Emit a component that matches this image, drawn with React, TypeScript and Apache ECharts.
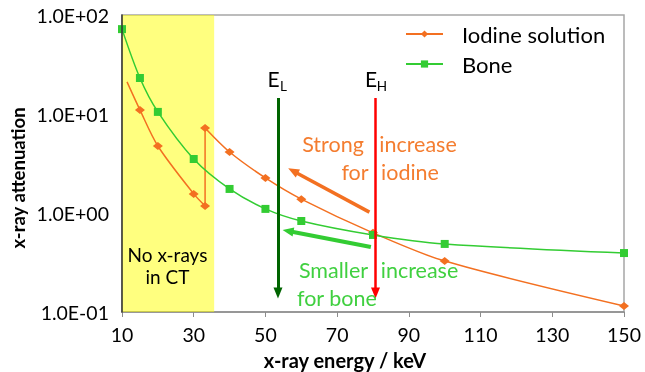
import React, { useEffect, useRef } from "react";
import * as echarts from "echarts";

// Bone attenuation (NIST-like energies)
const boneEnergy = [10, 15, 20, 30, 40, 50, 60, 80, 100, 150];
const boneAttenuation = [72, 23.1, 10.5, 3.51, 1.75, 1.1, 0.83, 0.6, 0.487, 0.394];

// Iodine solution, below and above the K-edge
const iodineLowEnergy = [11.4, 15, 20, 30, 33.17];
const iodineLowAttenuation = [21.1, 11.0, 4.75, 1.56, 1.18];
const iodineHighEnergy = [33.17, 40, 50, 60, 80, 100, 150];
const iodineHighAttenuation = [7.22, 4.13, 2.26, 1.38, 0.63, 0.327, 0.115];

// Annotations (data coordinates)
const noXrayRange = [10, 35.7];
const energyLow = 53.5;
const energyHigh = 80.7;
const arrowTop = 14.5;
const arrowBottom = 0.156;
const iodineArrow = [
  [79, 1.02],
  [57.7, 2.66],
];
const boneArrow = [
  [79.4, 0.454],
  [56.3, 0.658],
];

const ORANGE = "#F37021";
const ORANGE_TEXT = "#F47D30";
const GREEN = "#33CC33";
const GREEN_TEXT = "#40D040";
const FONT = "Lato";

const zip = (xs: number[], ys: number[]) => xs.map((x, i) => [x, ys[i]]);

const fmtExp = (v: number) => {
  const e = Math.round(Math.log10(v));
  const sign = e < 0 ? "-" : "+";
  const a = Math.abs(e);
  return "1.0E" + sign + (a < 10 ? "0" + a : String(a));
};

export default function App() {
  const ref = useRef<HTMLDivElement>(null);
  useEffect(() => {
    if (!ref.current) return;
    const chart = echarts.init(ref.current, null, { renderer: "svg" });
    const lowData: any[] = zip(iodineLowEnergy, iodineLowAttenuation).map((p, i) =>
      i === 0 ? { value: p, symbol: "none" } : p
    );
    const text = (t: string, x: number, y: number, size: number, fill: string, extra: any = {}) => ({
      type: "text",
      x,
      y,
      z: 100,
      style: {
        text: t,
        fill,
        font: `${extra.bold ? "bold " : ""}${size}px ${FONT}`,
        align: extra.align || "center",
        verticalAlign: "middle",
      },
      rotation: extra.rotation || 0,
    });
    const option: any = {
      animation: false,
      grid: {
        left: 122,
        top: 15,
        right: 21,
        bottom: 60,
        show: true,
        borderColor: "#A6A6A6",
        borderWidth: 1.5,
      },
      legend: {
        orient: "vertical",
        left: 400,
        top: 18,
        itemGap: 8,
        itemWidth: 37,
        itemHeight: 9,
        data: ["Iodine solution", "Bone"],
        textStyle: { fontFamily: FONT, fontSize: 22, color: "#000", padding: [0, 0, 0, 14] },
      },
      xAxis: [
        {
          type: "value",
          min: 10,
          max: 150,
          axisLine: { show: true, onZero: false, lineStyle: { color: "#8C8C8C", width: 1.5 } },
          axisTick: { show: false },
          axisLabel: { show: false },
          splitLine: { show: false },
        },
        {
          type: "value",
          min: 0,
          max: 140,
          interval: 20,
          position: "bottom",
          axisLine: { show: false, onZero: false },
          axisTick: { show: true, length: 5, lineStyle: { color: "#8C8C8C" } },
          axisLabel: {
            formatter: (v: number) => String(v + 10),
            fontFamily: FONT,
            fontSize: 19.5,
            color: "#000",
            margin: 12,
          },
          splitLine: { show: false },
        },
      ],
      yAxis: {
        type: "log",
        logBase: 10,
        min: 0.1,
        max: 100,
        z: 10,
        axisLine: { show: true, onZero: false, lineStyle: { color: "#333", width: 1.5 } },
        axisTick: { show: false },
        splitLine: { show: false },
        axisLabel: {
          formatter: fmtExp,
          fontFamily: FONT,
          fontSize: 19.5,
          color: "#000",
          margin: 13,
          padding: [8, 0, 0, 0],
        },
      },
      graphic: [
        text("x-ray energy / keV", 345, 360, 20, "#000", { bold: true }),
        text("x-ray attenuation", 18, 178, 18.5, "#000", { bold: true, rotation: Math.PI / 2 }),
        text("No x-rays", 167.5, 254, 19, "#000"),
        text("in CT", 167.5, 276, 19, "#000"),
        text("E", 273.5, 78, 21, "#000"),
        text("L", 283.5, 86, 13.5, "#000"),
        text("E", 371, 78, 21, "#000"),
        text("H", 382, 86, 13.5, "#000"),
        text("Strong", 333, 144, 21.5, ORANGE_TEXT),
        text("increase", 418, 144, 21.5, ORANGE_TEXT),
        text("for", 355, 172, 21.5, ORANGE_TEXT),
        text("iodine", 410, 172, 21.5, ORANGE_TEXT),
        text("Smaller", 333.5, 270, 21.5, GREEN_TEXT),
        text("increase", 419.5, 270, 21.5, GREEN_TEXT),
        text("for bone", 297, 298, 21.5, GREEN_TEXT, { align: "left" }),
      ],
      series: [
        {
          name: "Iodine solution",
          type: "line",
          data: lowData,
          smooth: 0.3,
          symbol: "diamond",
          symbolSize: [10, 8],
          itemStyle: { color: ORANGE },
          lineStyle: { color: ORANGE, width: 1.5 },
        },
        {
          name: "Iodine solution",
          type: "line",
          data: [
            [iodineLowEnergy[iodineLowEnergy.length - 1], iodineLowAttenuation[iodineLowAttenuation.length - 1]],
            [iodineHighEnergy[0], iodineHighAttenuation[0]],
          ],
          symbol: "none",
          itemStyle: { color: ORANGE },
          lineStyle: { color: ORANGE, width: 1.5 },
        },
        {
          name: "Iodine solution",
          type: "line",
          data: zip(iodineHighEnergy, iodineHighAttenuation),
          smooth: 0.3,
          symbol: "diamond",
          symbolSize: [10, 8],
          itemStyle: { color: ORANGE },
          lineStyle: { color: ORANGE, width: 1.5 },
        },
        {
          name: "Bone",
          type: "line",
          data: zip(boneEnergy, boneAttenuation),
          smooth: 0.3,
          symbol: "rect",
          symbolSize: 8,
          itemStyle: { color: GREEN },
          lineStyle: { color: GREEN, width: 1.5 },
        },
        {
          name: "annotations",
          type: "line",
          data: [],
          z: 5,
          silent: true,
          markArea: {
            silent: true,
            itemStyle: { color: "rgba(255,255,0,0.5)" },
            data: [[{ xAxis: noXrayRange[0] }, { xAxis: noXrayRange[1] }]],
          },
          markLine: {
            silent: true,
            symbol: ["none", "triangle"],
            symbolSize: [9, 11],
            label: { show: false },
            data: [
              [
                { coord: [energyLow, arrowTop], lineStyle: { color: "#006400", width: 3, type: "solid" }, symbol: "none" },
                { coord: [energyLow, arrowBottom], symbol: "triangle" },
              ],
              [
                { coord: [energyHigh, arrowTop], lineStyle: { color: "#FF0000", width: 2.5, type: "solid" }, symbol: "none" },
                { coord: [energyHigh, arrowBottom], symbol: "triangle" },
              ],
              [
                { coord: iodineArrow[0], lineStyle: { color: ORANGE, width: 3.5, type: "solid" }, symbol: "none" },
                { coord: iodineArrow[1], symbol: "triangle" },
              ],
              [
                { coord: boneArrow[0], lineStyle: { color: GREEN, width: 4, type: "solid" }, symbol: "none" },
                { coord: boneArrow[1], symbol: "triangle" },
              ],
            ],
          },
        },
      ],
    };
    chart.setOption(option);
    return () => chart.dispose();
  }, []);
  return (
    <div
      ref={ref}
      style={{ position: "fixed", left: 0, top: 0, width: 645, height: 372 }}
    />
  );
}
